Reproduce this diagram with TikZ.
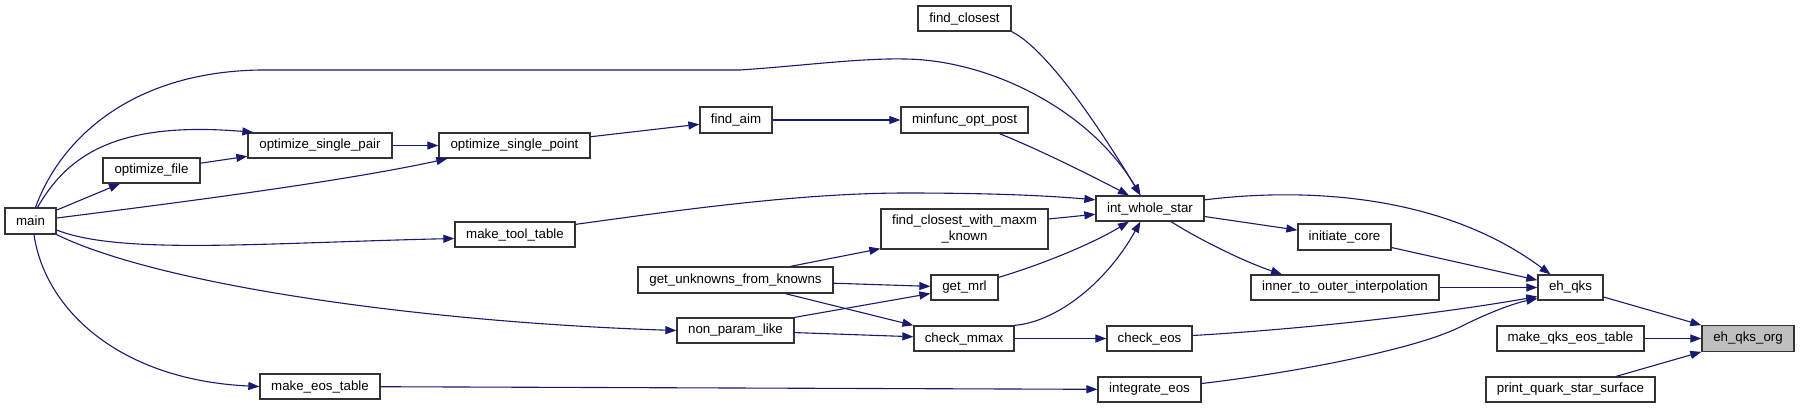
\documentclass[tikz,border=0pt]{standalone}
\usepackage{fontspec}
\setmainfont{Liberation Sans}
\usetikzlibrary{arrows.meta}
\definecolor{edgeblue}{HTML}{191970}
\definecolor{boxline}{HTML}{333333}
\definecolor{rootfill}{HTML}{BFBFBF}
\tikzset{
  fn/.style={draw=boxline, line width=1.3bp, fill=white, rectangle, inner sep=0pt,
    minimum height=25.5bp, font=\fontsize{13.3bp}{15.5bp}\selectfont, text=black, align=center},
  call/.style={draw=edgeblue, line width=1.1bp, -{Triangle[length=11bp,width=8bp]}, fill=none},
}
\newcommand{\fbx}[6]{% name, x1, y1, x2, y2, text
  \node[fn, minimum width={(#4-#2)*1bp}, minimum height={(#5-#3)*1bp}] (#1) at ({(#2+#4)/2},{(#3+#5)/2}) {#6};}
\begin{document}
\begin{tikzpicture}[x=1bp, y=-1bp]
\useasboundingbox (0,0) rectangle (1803,408);
\fbx{main}{5}{208}{56}{234}{main}
\fbx{optfile}{103}{158}{200}{183}{optimize\_file}
\fbx{optpair}{248}{133}{392}{158}{optimize\_single\_pair}
\fbx{optpoint}{439}{133}{590}{158}{optimize\_single\_point}
\fbx{tooltable}{455}{222}{575}{247}{make\_tool\_table}
\fbx{eostable}{260}{374}{380}{399}{make\_eos\_table}
\fbx{findclosest}{918}{6}{1011}{31}{find\_closest}
\fbx{findaim}{700}{107}{772}{133}{find\_aim}
\fbx{minfunc}{901}{107}{1028}{133}{minfunc\_opt\_post}
\fbx{iws}{1096}{196}{1204}{221}{int\_whole\_star}
\fbx{fcwmk}{881}{209}{1048}{249}{find\_closest\_with\_maxm\\\_known}
\fbx{guk}{638}{267}{833}{293}{get\_unknowns\_from\_knowns}
\fbx{getmrl}{931}{275}{998}{300}{get\_mrl}
\fbx{npl}{677}{318}{794}{343}{non\_param\_like}
\fbx{checkmmax}{914}{326}{1014}{351}{check\_mmax}
\fbx{checkeos}{1107}{326}{1192}{351}{check\_eos}
\fbx{integrate}{1098}{377}{1201}{402}{integrate\_eos}
\fbx{initcore}{1298}{224}{1391}{250}{initiate\_core}
\fbx{inner}{1251}{275}{1439}{300}{inner\_to\_outer\_interpolation}
\fbx{ehqks}{1538}{275}{1603}{300}{eh\_qks}
\fbx{qkstable}{1497}{326}{1644}{351}{make\_qks\_eos\_table}
\fbx{pqss}{1486}{377}{1655}{402}{print\_quark\_star\_surface}
\node[fn, fill=rootfill, minimum width=92bp] (ehqksorg) at (1748,338.5) {eh\_qks\_org};

% edges
\draw[call] ([xshift=5bp]main.north) .. controls (60,140) and (130,72) .. (260,70) -- (740,70)
  .. controls (800,66) and (860,58) .. (905,59) .. controls (990,60) and (1090,110) .. (iws.126);
\draw[call] ([xshift=7bp]main.north) .. controls (65,160) and (110,120) .. ([xshift=6bp]optpair.north west);
\draw[call] (main) -- (optfile);
\draw[call] (optfile) -- (optpair);
\draw[call] ([yshift=3bp]main.east) .. controls (200,200) and (350,180) .. ([xshift=9bp]optpoint.south west);
\draw[call] (optpair) -- (optpoint);
\draw[call] ([yshift=-9bp]main.east) .. controls (120,255) and (260,243) .. ([yshift=-4bp]tooltable.west);
\draw[call] (main.south east) .. controls (160,285) and (420,322) .. (npl.west);
\draw[call] ([xshift=3.5bp]main.south) .. controls (45,310) and (120,380) .. (eostable.west);
\draw[call] (optpoint) -- (findaim);
\draw[call] (findaim) -- (minfunc);
\draw[call] ([xshift=35bp]minfunc.south) .. controls (1040,150) and (1090,175) .. (iws.148);
\draw[call] (findclosest.south east) .. controls (1045,48) and (1095,120) .. (iws.126);
\draw[call] ([yshift=-3bp]tooltable.north east) .. controls (680,210) and (800,193) .. (906,193)
  .. controls (980,193) and (1040,195) .. (iws.171);
\draw[call] ([yshift=10bp]fcwmk.east) -- (iws.186);
\draw[call] ([xshift=55bp]guk.north) -- ([yshift=1bp]fcwmk.south west);
\draw[call] (guk) -- (getmrl);
\draw[call] ([xshift=50bp]guk.south) -- (checkmmax.north west);
\draw[call] (npl.north east) -- ([yshift=-6bp]getmrl.west);
\draw[call] (npl) -- (checkmmax);
\draw[call] ([yshift=-3bp]getmrl.north east) .. controls (1040,265) and (1090,245) .. (iws.212);
\draw[call] (checkmmax.north east) .. controls (1055,322) and (1105,285) .. (iws.234);
\draw[call] (checkmmax) -- (checkeos);
\draw[call] (iws) -- (initcore);
\draw[call] (iws.328) .. controls (1200,240) and (1245,262) .. ([xshift=-63bp]inner.north);
\draw[call] (iws.9) .. controls (1300,188) and (1440,192) .. ([xshift=-20bp]ehqks.north);
\draw[call] (initcore) -- (ehqks);
\draw[call] (inner) -- (ehqks);
\draw[call] ([yshift=3bp]checkeos.east) .. controls (1320,328) and (1450,312) .. ([yshift=-9bp]ehqks.west);
\draw[call] ([yshift=6bp]integrate.east) .. controls (1300,372) and (1420,348) .. (1462,326)
  .. controls (1490,312) and (1515,303) .. ([yshift=-11bp]ehqks.west);
\draw[call] (eostable) -- (integrate);
\draw[call] (ehqks) -- (ehqksorg);
\draw[call] (qkstable) -- (ehqksorg);
\draw[call] (pqss) -- (ehqksorg);
\end{tikzpicture}
\end{document}
